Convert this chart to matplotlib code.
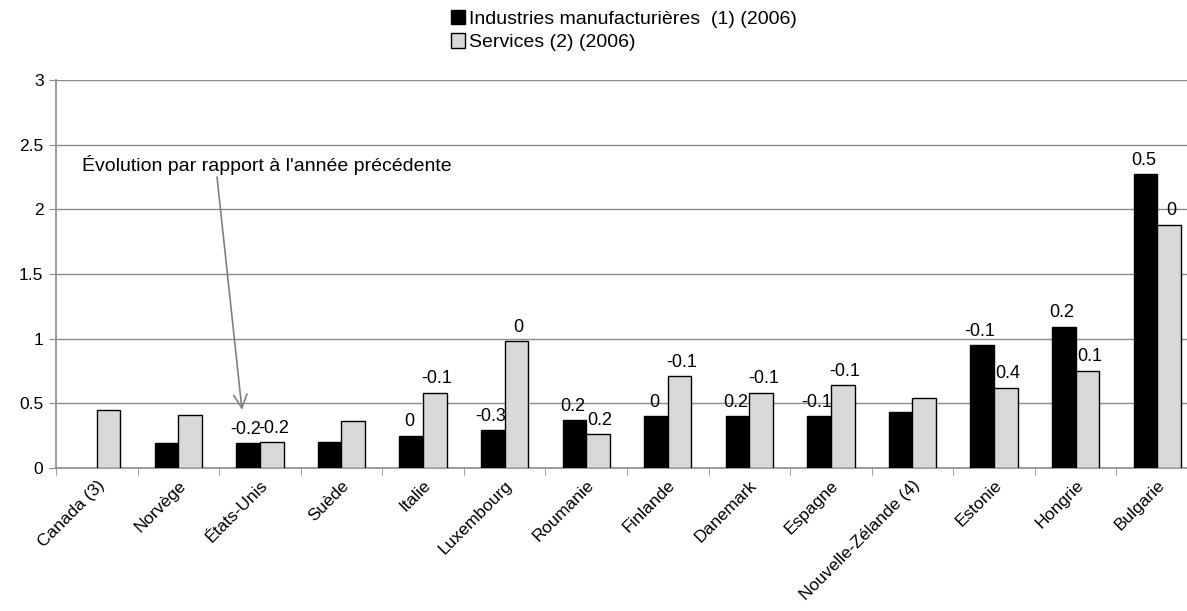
import numpy as np
import matplotlib.pyplot as plt
from matplotlib.patches import Patch

plt.rcParams['font.family'] = ['Liberation Sans', 'DejaVu Sans']

pays = ["Canada (3)", "Norvège", "États-Unis", "Suède", "Italie", "Luxembourg",
        "Roumanie", "Finlande", "Danemark", "Espagne", "Nouvelle-Zélande (4)",
        "Estonie", "Hongrie", "Bulgarie"]

industrie = [np.nan, 0.19, 0.19, 0.20, 0.25, 0.29, 0.37, 0.40, 0.40, 0.40, 0.43, 0.95, 1.09, 2.27]
services = [0.45, 0.41, 0.20, 0.36, 0.58, 0.98, 0.26, 0.71, 0.58, 0.64, 0.54, 0.62, 0.75, 1.88]

# évolution par rapport à l'année précédente (None = pas d'étiquette)
evol_industrie = [None, None, "-0.2", None, "0", "-0.3", "0.2", "0", "0.2", "-0.1", None, "-0.1", "0.2", "0.5"]
evol_services = [None, None, "-0.2", None, "-0.1", "0", "0.2", "-0.1", "-0.1", "-0.1", None, "0.4", "0.1", "0"]

GRID = "#8c8c8c"
FS = 13

fig = plt.figure(figsize=(11.87, 6.11), dpi=100)
ax = fig.add_axes([56 / 1187, 1 - 468 / 611, 1142 / 1187, 388 / 611])

x = np.arange(len(pays))
w = 0.29
ax.bar(x - w / 2, industrie, w, color="black", edgecolor="black", linewidth=1, zorder=3)
ax.bar(x + w / 2, services, w, color="#d9d9d9", edgecolor="black", linewidth=1, zorder=3)

for i in range(len(pays)):
    if evol_industrie[i] is not None:
        ax.annotate(evol_industrie[i], (x[i] - w / 2, industrie[i]), xytext=(-1.5, 4),
                    textcoords="offset points", ha="center", va="bottom", fontsize=FS)
    if evol_services[i] is not None:
        ax.annotate(evol_services[i], (x[i] + w / 2, services[i]), xytext=(1.5, 4),
                    textcoords="offset points", ha="center", va="bottom", fontsize=FS)

ax.set_xlim(-0.5, len(pays) - 0.5)
ax.set_ylim(0, 3)
ax.set_yticks(np.arange(0, 3.01, 0.5))
ax.set_yticklabels(["0", "0.5", "1", "1.5", "2", "2.5", "3"], fontsize=12.5)
ax.yaxis.grid(True, color=GRID, linewidth=1, zorder=0)
ax.set_axisbelow(True)

ax.set_xticks(x)
ax.set_xticklabels(pays, rotation=45, ha="right", va="top", rotation_mode="anchor", fontsize=12.5)
ax.set_xticks(np.arange(-0.5, len(pays)), minor=True)
ax.tick_params(axis="x", which="major", length=0, pad=7)
ax.tick_params(axis="x", which="minor", length=5, color=GRID, direction="out")
ax.tick_params(axis="y", length=5, color=GRID, direction="out", pad=4)

for s in ["top", "right"]:
    ax.spines[s].set_visible(False)
for s in ["left", "bottom"]:
    ax.spines[s].set_color(GRID)
    ax.spines[s].set_linewidth(1.2)

fig.text(82 / 1187, 1 - 165 / 611, "Évolution par rapport à l'année précédente",
         ha="left", va="center", fontsize=14)
ax.annotate("", xy=(1.78, 0.45), xytext=(217 / 1187, 1 - 177 / 611),
            textcoords="figure fraction",
            arrowprops=dict(arrowstyle="->", color="#808080", lw=1.2,
                            mutation_scale=24, shrinkA=0, shrinkB=0))

handles = [Patch(facecolor="black", edgecolor="black"),
           Patch(facecolor="#d9d9d9", edgecolor="black")]
fig.legend(handles, ["Industries manufacturières  (1) (2006)", "Services (2) (2006)"],
           loc="upper left", bbox_to_anchor=(438 / 1187, 1.0 + 3 / 611), frameon=False,
           fontsize=14, handlelength=0.75, handleheight=0.75, handletextpad=0.2,
           labelspacing=0.3, borderaxespad=0.25)

fig.savefig("out.png", dpi=100)
